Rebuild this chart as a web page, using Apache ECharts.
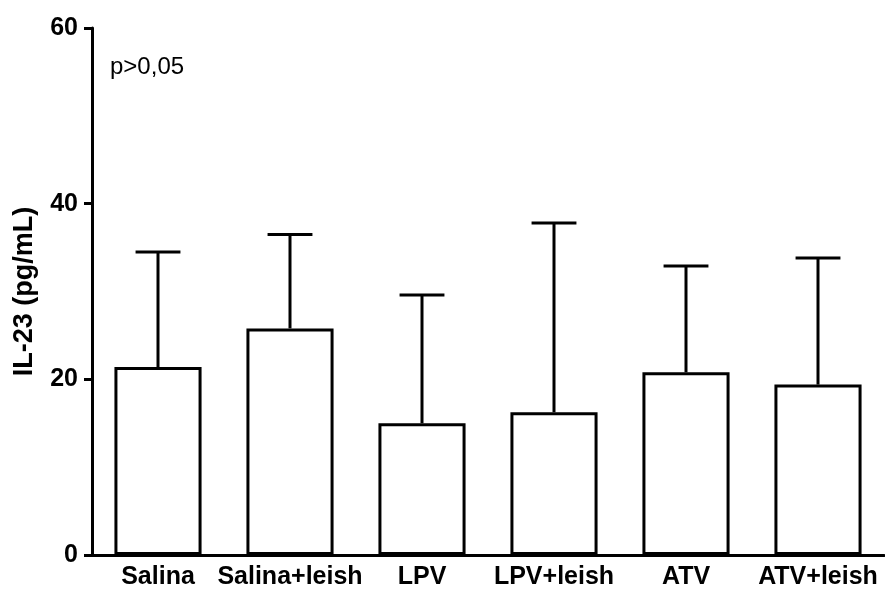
<!DOCTYPE html>
<html>
<head>
<meta charset="utf-8">
<script src="https://cdn.jsdelivr.net/npm/echarts@6/dist/echarts.min.js"></script>
<style>
  html, body { margin: 0; padding: 0; background: #fff; }
  #chart { width: 885px; height: 595px; }
</style>
</head>
<body>
<div id="chart"></div>
<script>
// IL-23 levels per group: mean and upper error (mean + SD)
const categories = ['Salina', 'Salina+leish', 'LPV', 'LPV+leish', 'ATV', 'ATV+leish'];
const means = [21.4, 25.8, 15.0, 16.25, 20.8, 19.4];
const errTops = [34.5, 36.5, 29.6, 37.8, 32.9, 33.8];
const yTicks = [0, 20, 40, 60];

const FONT = '"Liberation Sans", Arial, sans-serif';
const chart = echarts.init(document.getElementById('chart'), null, { renderer: 'canvas' });

chart.setOption({
  animation: false,
  backgroundColor: '#ffffff',
  grid: { left: 92, right: 1, top: 28, bottom: 40, containLabel: false },
  graphic: [{
    type: 'text',
    left: 110,
    top: 55,
    style: { text: 'p>0,05', font: '24px ' + FONT, fill: '#000' }
  }],
  xAxis: {
    type: 'category',
    data: categories,
    boundaryGap: true,
    axisLine: { lineStyle: { color: '#000', width: 3 } },
    axisTick: { alignWithLabel: true, length: 8, lineStyle: { color: '#000', width: 3 } },
    axisLabel: { color: '#000', fontFamily: FONT, fontWeight: 'bold', fontSize: 25, margin: 10, interval: 0 }
  },
  yAxis: {
    type: 'value',
    min: yTicks[0],
    max: yTicks[yTicks.length - 1],
    interval: 20,
    name: 'IL-23 (pg/mL)',
    nameLocation: 'middle',
    nameGap: 54,
    nameTextStyle: { color: '#000', fontFamily: FONT, fontWeight: 'bold', fontSize: 27 },
    splitLine: { show: false },
    axisLine: { show: true, lineStyle: { color: '#000', width: 3 } },
    axisTick: { show: true, length: 8, lineStyle: { color: '#000', width: 3 } },
    axisLabel: { color: '#000', fontFamily: FONT, fontWeight: 'bold', fontSize: 25, margin: 14 }
  },
  series: [
    {
      type: 'bar',
      data: means,
      barWidth: '66%',
      itemStyle: { color: '#ffffff', borderColor: '#000', borderWidth: 3 },
      z: 2
    },
    {
      type: 'custom',
      data: categories.map((c, i) => [i, means[i], errTops[i]]),
      renderItem: function (params, api) {
        const top = api.coord([api.value(0), api.value(2)]);
        const base = api.coord([api.value(0), api.value(1)]);
        const half = api.size([1, 0])[0] * 0.17;
        const style = { stroke: '#000', lineWidth: 3 };
        return {
          type: 'group',
          children: [
            { type: 'line', shape: { x1: top[0], y1: base[1], x2: top[0], y2: top[1] }, style: style },
            { type: 'line', shape: { x1: top[0] - half, y1: top[1], x2: top[0] + half, y2: top[1] }, style: style }
          ]
        };
      },
      z: 3
    }
  ]
});
</script>
</body>
</html>
